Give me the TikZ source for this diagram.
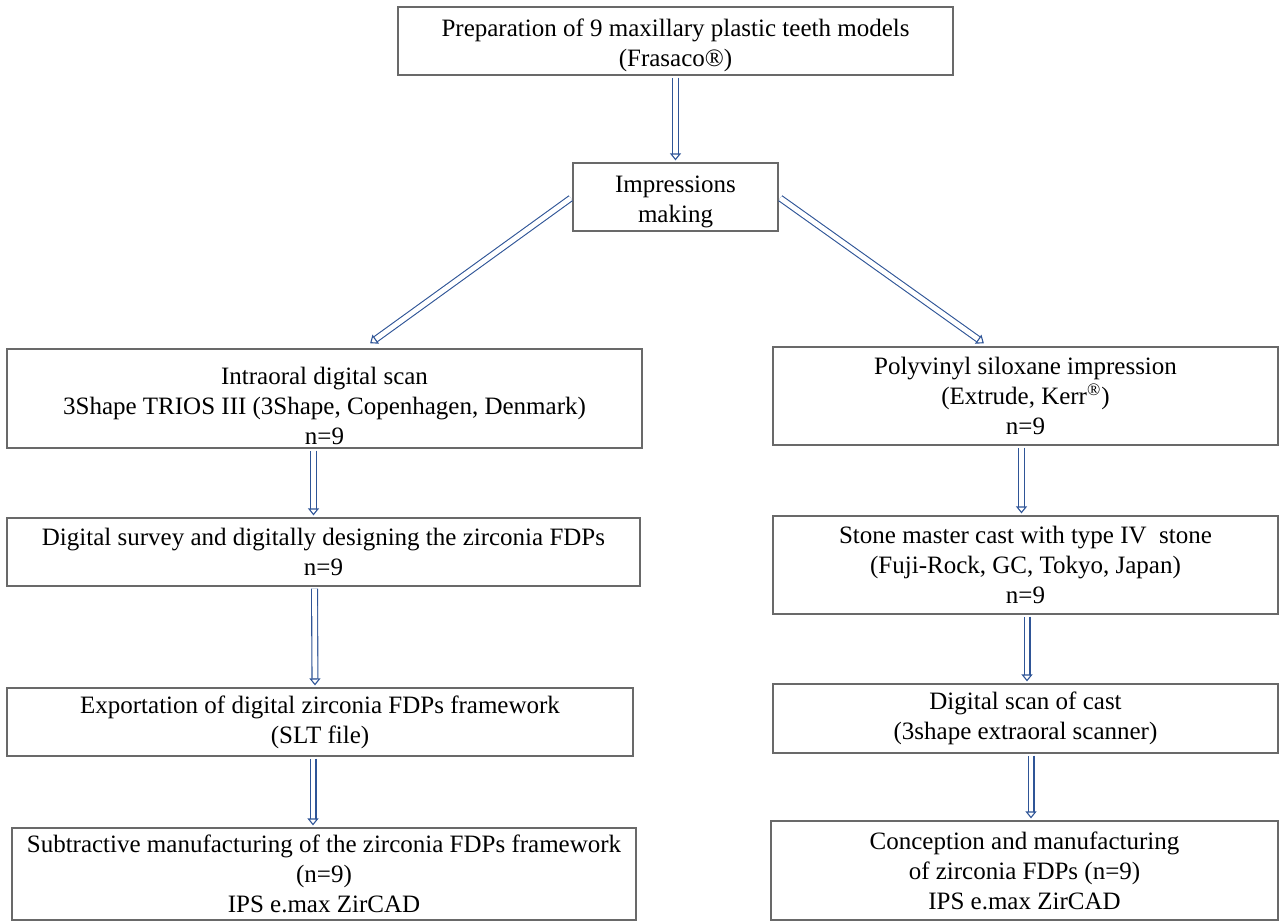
\documentclass[tikz,border=0pt]{standalone}
\usepackage{fontspec}
\setmainfont{Liberation Serif}
\usepackage{tikz}
\usetikzlibrary{shapes,arrows,arrows.meta}
\definecolor{arrowblue}{RGB}{47,85,151}
\definecolor{boxgray}{RGB}{105,105,105}
\tikzstyle{block} = [draw=boxgray, line width=0.6pt, align=center, inner sep=0pt, font=\fontsize{12.5}{15}\selectfont]
\tikzstyle{size} = [minimum width=#1*0.5pt]
\tikzstyle{tall} = [minimum height=#1*0.5pt]
\tikzstyle{dblarrow} = [draw=arrowblue, line width=0.55pt, double=white, double distance=2.4pt, shorten <=1pt, shorten >=1pt, -{Triangle[open, length=3.5pt, width=5.5pt]}]
\newcommand{\lowerby}[1]{\rule{0pt}{#1}}

\begin{document}
\begin{tikzpicture}[x=0.5pt, y=-0.5pt]
		\useasboundingbox (0,0) rectangle (1279,921);
		\node [block, size=555, tall=68] (prep) at (675.5,41) {\lowerby{13pt}Preparation of 9 maxillary plastic teeth models\\(Frasaco\textregistered)};
		\node [block, size=205, tall=68] (imp) at (675.5,197) {\lowerby{13.5pt}Impressions\\making};
		\node [block, size=635, tall=99] (intra) at (324.5,398.5) {\lowerby{16pt}Intraoral digital scan\\3Shape TRIOS III (3Shape, Copenhagen, Denmark)\\n=9};
		\node [block, size=633, tall=68] (survey) at (323.5,552) {Digital survey and digitally designing the zirconia FDPs\\n=9};
		\node [block, size=626, tall=68] (export) at (320,722) {Exportation of digital zirconia FDPs framework\\(SLT file)};
		\node [block, size=624, tall=92] (subtr) at (324,874) {Subtractive manufacturing of the zirconia FDPs framework\\(n=9)\\IPS e.max ZirCAD};
		\node [block, size=505, tall=98] (pvs) at (1025.5,396) {Polyvinyl siloxane impression\\(Extrude, Kerr\textsuperscript{\textregistered})\\n=9};
		\node [block, size=505, tall=98] (stone) at (1025.5,565) {Stone master cast with type IV\ \ stone\\(Fuji-Rock, GC, Tokyo, Japan)\\n=9};
		\node [block, size=505, tall=69] (dscan) at (1025.5,718.5) {Digital scan of cast\\(3shape extraoral scanner)};
		\node [block, size=507, tall=99] (concep) at (1024.5,870.5) {Conception and manufacturing\\of zirconia FDPs (n=9)\\IPS e.max ZirCAD};

		\draw [dblarrow] (prep) -- (imp);
		\draw [dblarrow] (imp.west) -- ([xshift=22pt, yshift=2pt]intra.north);
		\draw [dblarrow] (imp.east) -- ([xshift=-20pt, yshift=1pt]pvs.north);

		\draw [dblarrow] ([xshift=-5.5pt]intra.south) -- ([xshift=-5pt]survey.north);
		\draw [dblarrow] ([xshift=-4.5pt]survey.south) -- ([xshift=-2.5pt]export.north);
		\draw [dblarrow] ([xshift=-3.5pt]export.south) -- ([xshift=-5.5pt]subtr.north);

		\draw [dblarrow] ([xshift=-2pt]pvs.south) -- ([xshift=-2pt]stone.north);
		\draw [dblarrow] ([xshift=0.75pt]stone.south) -- ([xshift=0.75pt]dscan.north);
		\draw [dblarrow] ([xshift=2.75pt]dscan.south) -- ([xshift=3.25pt]concep.north);
\end{tikzpicture}
\end{document}
